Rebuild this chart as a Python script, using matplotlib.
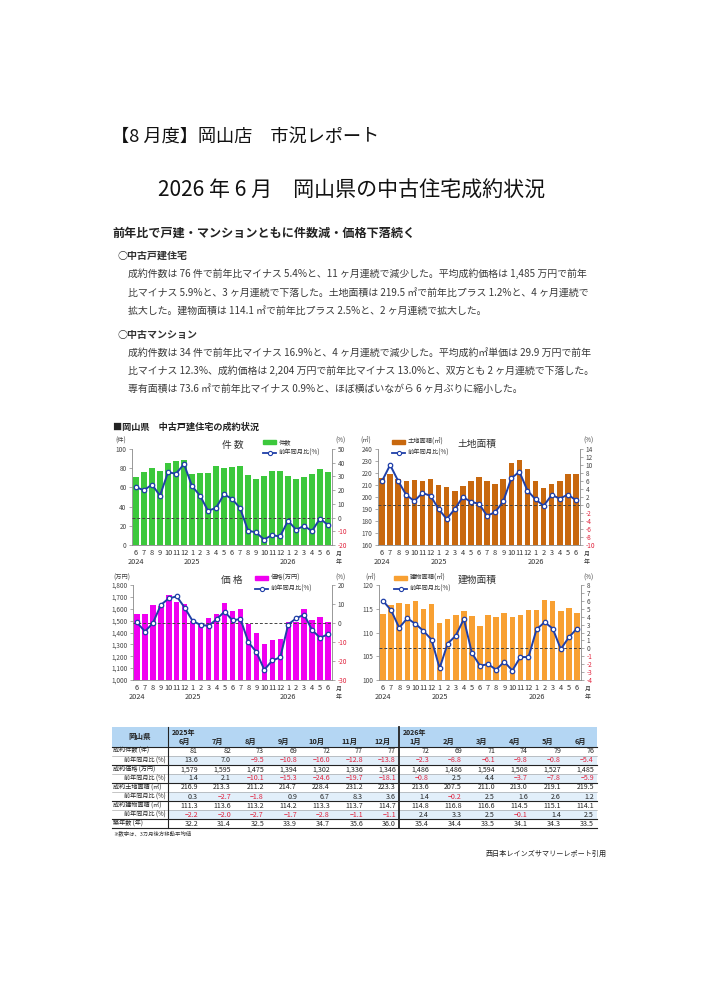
import matplotlib
matplotlib.use('agg')  # headless matplotlib
import matplotlib.pyplot as plt
import matplotlib.transforms as mtransforms
from matplotlib.patches import Rectangle
from matplotlib.lines import Line2D

plt.rcParams['font.family'] = ['Noto Sans CJK JP', 'DejaVu Sans']

W, H = 707, 1000

# ---- data (monthly, 2024/6 .. 2026/6) ----
MONTHS = ['6', '7', '8', '9', '10', '11', '12', '1', '2', '3', '4', '5', '6',
          '7', '8', '9', '10', '11', '12', '1', '2', '3', '4', '5', '6']
YEARS = {0: '2024', 7: '2025', 19: '2026'}

count_bars = [71, 76, 80, 77, 85, 88, 89, 74, 75, 75, 82, 80, 81,
              82, 73, 69, 72, 77, 77, 72, 69, 71, 74, 79, 76]
count_yoy = [22, 20, 24, 16, 33, 32, 39, 23, 16, 5, 7, 17, 13.6,
             7.0, -9.5, -10.8, -16.0, -12.8, -13.8, -2.3, -8.8, -6.1, -9.8, -0.8, -5.4]

land_bars = [216, 219, 215, 213, 214, 213, 215, 210, 208, 205, 209, 213, 216.9,
             213.3, 211.2, 214.7, 228.4, 231.2, 223.3, 213.6, 207.5, 211.0, 213.0, 219.1, 219.5]
land_yoy = [6.0, 10.0, 6.0, 2.5, 1.0, 3.0, 2.3, -1.0, -3.5, -1.0, 2.0, 0.8, 0.3,
            -2.7, -1.8, 0.9, 6.7, 8.3, 3.6, 1.4, -0.2, 2.5, 1.6, 2.6, 1.2]

price_bars = [1555, 1560, 1635, 1620, 1720, 1660, 1640, 1500, 1470, 1525, 1560, 1650, 1579,
              1595, 1475, 1394, 1302, 1336, 1346, 1486, 1486, 1594, 1508, 1527, 1485]
price_yoy = [0.3, -4.5, 0.0, 9.5, 13.0, 14.0, 8.0, 1.0, -1.0, -1.5, 2.0, 6.0, 1.4,
             2.1, -10.1, -15.3, -24.6, -19.7, -18.1, -0.8, 2.5, 4.4, -3.7, -7.8, -5.9]

bldg_bars = [113.8, 115.8, 116.2, 116.1, 116.6, 114.9, 115.9, 112.0, 112.9, 113.7, 114.6, 113.4, 111.3,
             113.6, 113.2, 114.2, 113.3, 113.7, 114.7, 114.8, 116.8, 116.6, 114.5, 115.1, 114.1]
bldg_yoy = [6.0, 4.8, 2.6, 3.8, 3.1, 2.2, 1.1, -2.5, 0.6, 1.6, 3.7, -0.6, -2.2,
            -2.0, -2.7, -1.7, -2.8, -1.1, -1.1, 2.4, 3.3, 2.5, -0.1, 1.4, 2.5]

age_years = [32.2, 31.4, 32.5, 33.9, 34.7, 35.6, 36.0, 35.4, 34.4, 33.5, 34.1, 34.3, 33.5]

TABLE_MONTHS = ['6月', '7月', '8月', '9月', '10月', '11月', '12月',
                '1月', '2月', '3月', '4月', '5月', '6月']
TABLE_YEARS = {0: '2025年', 7: '2026年'}

LINE = '#1f3fa8'
RED = '#e0203a'
TXT = '#222222'

fig = plt.figure(figsize=(W / 100, H / 100), dpi=100)
fig.patch.set_facecolor('white')

# overlay in pixel coordinates for text, legends and the table
ov = fig.add_axes([0, 0, 1, 1], zorder=10)
ov.set_xlim(0, W)
ov.set_ylim(H, 0)
ov.axis('off')
ov.patch.set_alpha(0)


def pix_axes(x0, y0, x1, y1):
    return fig.add_axes([x0 / W, 1 - y1 / H, (x1 - x0) / W, (y1 - y0) / H])


def draw_chart(box, bars, yoy, color, ylim, yticks, yfmt, rlim, rticks):
    ax = pix_axes(*box)
    xs = list(range(len(bars)))
    ax.bar(xs, bars, width=0.68, color=color, zorder=2)
    ax.set_xlim(-0.5, len(bars) - 0.5)
    ax.set_ylim(*ylim)
    ax.set_yticks(yticks, labels=[yfmt(v) for v in yticks])
    ax.set_xticks(xs, labels=MONTHS)
    ax.tick_params(axis='x', length=0, pad=3, labelsize=5.3, labelcolor='#333')
    ax.tick_params(axis='y', length=2, width=0.5, pad=2, labelsize=4.6,
                   labelcolor='#444', color='#888')
    for s in ('top', 'right'):
        ax.spines[s].set_visible(False)
    for s in ('left', 'bottom'):
        ax.spines[s].set_color('#888')
        ax.spines[s].set_linewidth(0.6)
    tr = mtransforms.blended_transform_factory(ax.transData, ax.transAxes)
    for i, yr in YEARS.items():
        ax.text(i, -0.18, yr, transform=tr, ha='center', va='center', fontsize=5.3, color='#333')
    ax.text(25.3, -0.095, '月', transform=tr, ha='center', va='center', fontsize=4.3, color='#333')
    ax.text(25.3, -0.18, '年', transform=tr, ha='center', va='center', fontsize=4.3, color='#333')

    ax2 = ax.twinx()
    ax2.axhline(0, color='#444', lw=0.7, ls=(0, (3, 2)), zorder=1)
    ax2.plot(xs, yoy, color=LINE, lw=1.4, marker='o', ms=3.2, mfc='white',
             mec=LINE, mew=0.9, zorder=3)
    ax2.set_ylim(*rlim)
    ax2.set_yticks(rticks, labels=[str(v) for v in rticks])
    ax2.tick_params(axis='y', length=2, width=0.5, pad=2, labelsize=4.6,
                    labelcolor='#444', color='#888')
    for lbl, v in zip(ax2.get_yticklabels(), rticks):
        if v < 0:
            lbl.set_color(RED)
    for s in ('top', 'left', 'bottom'):
        ax2.spines[s].set_visible(False)
    ax2.spines['right'].set_color('#888')
    ax2.spines['right'].set_linewidth(0.6)
    return ax, ax2


def legend(x, y, color, label):
    ov.add_patch(Rectangle((x, y - 2), 13, 4, color=color))
    ov.text(x + 16, y, label, fontsize=4.5, va='center', ha='left', color='#333')
    ov.add_line(Line2D([x, x + 13], [y + 11, y + 11], color=LINE, lw=1.3))
    ov.add_line(Line2D([x + 6.5], [y + 11], marker='o', ms=3, mfc='white', mec=LINE, mew=0.8))
    ov.text(x + 16, y + 11, '前年同月比(%)', fontsize=4.5, va='center', ha='left', color='#333')


# ---- header text ----
ov.text(111, 138, '【8 月度】岡山店　市況レポート', fontsize=13.1, va='center', ha='left', color='#111')
ov.text(352, 191, '2026 年 6 月　岡山県の中古住宅成約状況', fontsize=15.1, va='center',
        ha='center', color='#111')
ov.text(112, 233, '前年比で戸建・マンションともに件数減・価格下落続く', fontsize=8.7,
        fontweight='bold', va='center', ha='left', color='#222')

ov.text(117, 256, '○中古戸建住宅', fontsize=7.2, fontweight='bold', va='center', ha='left', color='#333')
p1 = ['成約件数は 76 件で前年比マイナス 5.4%と、11 ヶ月連続で減少した。平均成約価格は 1,485 万円で前年',
      '比マイナス 5.9%と、3 ヶ月連続で下落した。土地面積は 219.5 ㎡で前年比プラス 1.2%と、4 ヶ月連続で',
      '拡大した。建物面積は 114.1 ㎡で前年比プラス 2.5%と、2 ヶ月連続で拡大した。']
for i, line in enumerate(p1):
    ov.text(128, 274 + i * 18.7, line, fontsize=7.15, va='center', ha='left', color='#3a3a3a')

ov.text(117, 335, '○中古マンション', fontsize=7.2, fontweight='bold', va='center', ha='left', color='#333')
p2 = ['成約件数は 34 件で前年比マイナス 16.9%と、4 ヶ月連続で減少した。平均成約㎡単価は 29.9 万円で前年',
      '比マイナス 12.3%、成約価格は 2,204 万円で前年比マイナス 13.0%と、双方とも 2 ヶ月連続で下落した。',
      '専有面積は 73.6 ㎡で前年比マイナス 0.9%と、ほぼ横ばいながら 6 ヶ月ぶりに縮小した。']
for i, line in enumerate(p2):
    ov.text(128, 353 + i * 18, line, fontsize=7.15, va='center', ha='left', color='#3a3a3a')

ov.text(113, 427, '■岡山県　中古戸建住宅の成約状況', fontsize=6.6, fontweight='bold',
        va='center', ha='left', color='#222')

# ---- charts ----
draw_chart((132, 449, 332, 545), count_bars, count_yoy, '#3cc83c',
           (0, 100), list(range(0, 101, 20)), lambda v: str(v),
           (-20, 50), list(range(50, -21, -10)))
draw_chart((378, 449, 580, 545), land_bars, land_yoy, '#c8680e',
           (160, 240), list(range(160, 241, 10)), lambda v: str(v),
           (-10, 14), list(range(14, -11, -2)))
draw_chart((133, 585, 332, 680), price_bars, price_yoy, '#f000f0',
           (1000, 1800), list(range(1000, 1801, 100)), lambda v: f'{v:,}',
           (-30, 20), list(range(20, -31, -10)))
draw_chart((379, 585, 581, 680), bldg_bars, bldg_yoy, '#f8a032',
           (100, 120), list(range(100, 121, 5)), lambda v: str(v),
           (-4, 8), list(range(8, -5, -1)))

for x, y, s in [(121, 441, '(件)'), (340, 441, '(%)'), (366, 441, '(㎡)'), (588, 441, '(%)'),
                (122, 578, '(万円)'), (340, 578, '(%)'), (371, 578, '(㎡)'), (588, 578, '(%)')]:
    ov.text(x, y, s, fontsize=4.5, ha='center', va='center', color='#444')

ov.text(233, 445, '件 数', fontsize=7, ha='center', va='center', color='#333')
legend(263, 442, '#3cc83c', '件数')
ov.text(477, 444, '土地面積', fontsize=7, ha='center', va='center', color='#333')
legend(392, 442, '#c8680e', '土地面積(㎡)')
ov.text(232, 580, '価 格', fontsize=7, ha='center', va='center', color='#333')
legend(255, 578, '#f000f0', '価格(万円)')
ov.text(477, 580, '建物面積', fontsize=7, ha='center', va='center', color='#333')
legend(394, 578, '#f8a032', '建物面積(㎡)')

# ---- table ----
tx0, tx1 = 112, 597
lab_x1 = 168
cw = (tx1 - lab_x1) / 13
hy0, hy1 = 727, 746.5
rh = 9.1

ov.add_patch(Rectangle((tx0, hy0), tx1 - tx0, hy1 - hy0, color='#b4d6f3', lw=0))
ov.text((tx0 + lab_x1) / 2, (hy0 + hy1) / 2, '岡山県', fontsize=5.4, fontweight='bold',
        ha='center', va='center', color=TXT)
for j, m in enumerate(TABLE_MONTHS):
    cx = lab_x1 + cw * (j + 0.5)
    ov.text(cx, 741.5, m, fontsize=5.3, fontweight='bold', ha='center', va='center', color=TXT)
    if j in TABLE_YEARS:
        ov.text(lab_x1 + cw * j + 4, 732, TABLE_YEARS[j], fontsize=5.1, fontweight='bold',
                ha='left', va='center', color=TXT)


def fmt_yoy(v):
    return f'{v:.1f}'.replace('-', '−')


rows = [
    ('成約件数 (件)', [f'{v}' for v in count_bars[12:]], None),
    ('前年同月比 (%)', [fmt_yoy(v) for v in count_yoy[12:]], count_yoy[12:]),
    ('成約価格 (万円)', [f'{v:,}' for v in price_bars[12:]], None),
    ('前年同月比 (%)', [fmt_yoy(v) for v in price_yoy[12:]], price_yoy[12:]),
    ('成約土地面積 (㎡)', [f'{v:.1f}' for v in land_bars[12:]], None),
    ('前年同月比 (%)', [fmt_yoy(v) for v in land_yoy[12:]], land_yoy[12:]),
    ('成約建物面積 (㎡)', [f'{v:.1f}' for v in bldg_bars[12:]], None),
    ('前年同月比 (%)', [fmt_yoy(v) for v in bldg_yoy[12:]], bldg_yoy[12:]),
    ('築年数 (年)', [f'{v:.1f}' for v in age_years], None),
]

for i, (label, cells, raw) in enumerate(rows):
    top = hy1 + rh * i
    cy = top + rh / 2
    if raw is not None:
        ov.add_patch(Rectangle((lab_x1, top), tx1 - lab_x1, rh, color='#e2effa', lw=0))
        ov.text(lab_x1 - 2, cy, label, fontsize=4.4, ha='right', va='center', color=TXT)
    else:
        ov.text(tx0 + 1, cy, label, fontsize=4.4, ha='left', va='center', color=TXT)
    for j, c in enumerate(cells):
        col = RED if (raw is not None and raw[j] < 0) else TXT
        ov.text(lab_x1 + cw * (j + 1) - 3, cy, c, fontsize=5.1, ha='right', va='center', color=col)
    bottom = top + rh
    strong = (raw is not None) or i == len(rows) - 1
    ov.add_line(Line2D([tx0, tx1], [bottom, bottom], color='#222' if strong else '#999',
                       lw=0.8 if strong else 0.4))

tb = hy1 + rh * len(rows)
ov.add_line(Line2D([tx0, tx1], [hy1, hy1], color='#222', lw=0.8))
ov.add_line(Line2D([lab_x1, lab_x1], [hy0, tb], color='#222', lw=0.8))
xsep = lab_x1 + cw * 7
ov.add_line(Line2D([xsep, xsep], [hy0, tb], color='#222', lw=1.3))
ov.text(113, 834, '※数字は、3カ月後方移動平均値', fontsize=3.9, ha='left', va='center', color='#333')

ov.text(607, 854, '西日本レインズサマリーレポート引用', fontsize=5.1, ha='right', va='center', color='#222')

fig.savefig('out.png', dpi=100, facecolor='white')
